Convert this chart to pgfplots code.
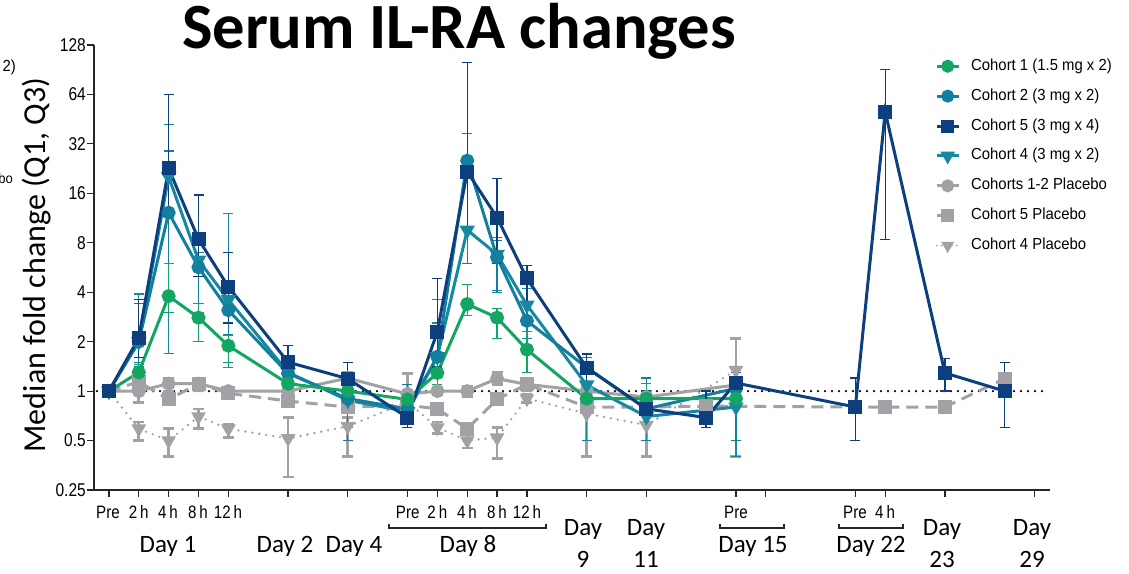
\documentclass[border=0pt]{standalone}
\usepackage{pgfplots}
\usepackage{pgfplotstable}
\pgfplotsset{compat=1.18}
\usepackage{fontspec}
\setmainfont{Liberation Sans}
\newfontfamily\carlito{Carlito}
\newfontfamily\narrowf[FakeStretch=0.84]{Liberation Sans}
\newfontfamily\legf[FakeStretch=0.93]{Liberation Sans}
\definecolor{cgreen}{HTML}{13A662}
\definecolor{cteal}{HTML}{137F9E}
\definecolor{cnavy}{HTML}{0D3F7F}
\definecolor{cteal4}{HTML}{1688A2}
\definecolor{cgrey}{HTML}{A2A2A6}

% Cohort 1 (1.5 mg x 2)
\pgfplotstableread{
x y lo hi
0 1 1 1
1 1.30 1.15 1.45
2 3.79 3.0 6.0
3 2.8 2.0 3.4
4 1.89 1.39 2.19
6 1.11 1.0 1.25
8 1.0 0.9 1.1
10 0.89 0.8 1.0
11 1.29 1.1 1.5
12 3.39 2.9 4.47
13 2.8 2.09 3.19
14 1.79 1.3 2.3
16 0.90 0.8 1.0
18 0.90 0.8 1.11
21 0.90 0.85 0.95
}\cA
% Cohort 2 (3 mg x 2)
\pgfplotstableread{
x y lo hi
0 1 1 1
1 2.0 1.4 3.4
2 12.2 6.0 29
3 5.67 3.4 7.0
4 3.11 2.2 3.6
6 1.28 1.0 1.5
8 0.90 0.5 1.49
10 0.78 0.7 1.1
11 1.62 1.0 3.6
12 25.3 6.0 37
13 6.52 4.0 8.3
14 2.68 1.9 3.4
16 1.39 1.0 1.6
18 0.78 0.5 1.2
21 1.04 0.5 1.2
}\cB
% Cohort 5 (3 mg x 4)
\pgfplotstableread{
x y lo hi
0 1 1 1
1 2.11 1.6 3.6
2 22.7 12 64
3 8.4 5.0 15.6
4 4.32 2.6 7.0
6 1.50 1.2 1.89
8 1.19 1.0 1.49
10 0.69 0.6 0.8
11 2.3 1.4 4.85
12 21.7 9.6 100
13 11.4 6.0 19.7
14 4.85 3.4 5.8
16 1.39 1.1 1.68
18 0.78 0.65 1.0
20 0.69 0.6 1.0
21 1.12 0.9 1.3
25 0.80 0.5 1.2
26 50.2 8.4 91
28 1.29 1.0 1.58
30 1.0 0.6 1.49
}\cE
% Cohort 4 (3 mg x 2)
\pgfplotstableread{
x y lo hi
0 1 1 1
1 2.0 1.5 3.9
2 20.2 1.7 42
3 6.27 3.0 8.0
4 3.6 1.5 12.1
6 1.30 1.0 1.6
8 0.88 0.6 1.3
10 0.75 0.7 1.0
11 1.62 1.1 2.6
12 9.56 6.0 25
13 6.8 4.1 8.6
14 3.34 2.1 4.2
16 1.09 0.5 1.5
18 0.70 0.5 1.2
21 0.80 0.4 1.0
}\cD
% Cohorts 1-2 Placebo
\pgfplotstableread{
x y lo hi
0 1 1 1
1 1.0 0.85 1.1
2 1.11 1.0 1.2
3 1.11 1.0 1.2
4 1.0 0.95 1.05
6 1.0 1.0 1.0
8 1.2 1.1 1.3
10 0.96 0.85 1.28
11 1.0 0.95 1.05
12 1.0 0.93 1.07
13 1.19 1.1 1.3
14 1.1 1.0 1.2
16 1.0 0.9 1.1
18 0.92 0.85 1.0
21 1.09 0.9 1.2
}\pA
% Cohort 5 Placebo
\pgfplotstableread{
x y
0 1
1 1.14
2 0.89
3 1.11
4 0.97
6 0.87
8 0.80
10 0.82
11 0.78
12 0.59
13 0.89
14 1.1
16 0.80
18 0.80
20 0.81
25 0.80
26 0.80
28 0.80
30 1.19
}\pE
% Cohort 4 Placebo
\pgfplotstableread{
x y lo hi
0 1 1 1
1 0.59 0.5 0.65
2 0.50 0.40 0.59
3 0.70 0.59 0.78
4 0.59 0.52 0.63
6 0.515 0.30 0.69
8 0.61 0.40 0.69
10 0.86 0.8 0.95
11 0.60 0.55 0.65
12 0.50 0.45 0.55
13 0.52 0.39 0.60
14 0.90 0.85 0.95
16 0.73 0.40 1.09
18 0.62 0.40 0.80
21 1.34 0.40 2.09
}\pD

\pgfplotsset{
  errs/.style={error bars/.cd, y dir=both, y explicit,
     error bar style={line width=1.3pt, solid, #1},
     error mark options={rotate=90, mark size=5pt, line width=1.3pt, solid, #1}},
  gerrs/.style={error bars/.cd, y dir=both, y explicit,
     error bar style={line width=2.6pt, solid, cgrey},
     error mark options={rotate=90, mark size=5.5pt, line width=2.6pt, solid, cgrey}},
}

\begin{document}
\begin{tikzpicture}
\useasboundingbox (0,0) rectangle (1129pt,573pt);
\begin{axis}[
  at={(94pt,83pt)}, anchor=south west,
  scale only axis, width=956pt, height=445pt,
  xmin=-0.5, xmax=31.52,
  ymode=log, log basis y=2, ymin=0.25, ymax=128,
  axis lines=left,
  axis line style={line width=1.3pt, -, black!85},
  tick style={line width=1.2pt, black!85},
  tick align=outside,
  major tick length=7pt,
  xtick={0,1,2,3,4,6,8,10,11,12,13,14,16,18,21,22,25,26,28,31},
  xticklabels={},
  ytick={0.25,0.5,1,2,4,8,16,32,64,128},
  yticklabels={0.25,0.5,1,2,4,8,16,32,64,128},
  yticklabel style={font=\narrowf\fontsize{18.5}{20}\selectfont, inner sep=1pt},
  minor tick num=0,
  clip=false,
  legend image code/.code={\draw[mark repeat=2,mark phase=2,#1] plot coordinates {(0pt,0pt) (11pt,0pt) (22pt,0pt)};},
  legend style={at={(0.8797,0.9685)}, anchor=north west, draw=none, fill=none,
     font=\legf\fontsize{16}{18}\selectfont, row sep=15.9pt, column sep=0pt,
     inner sep=0pt, nodes={inner sep=0pt, text height=11pt, text depth=3pt}},
  legend cell align=left,
]
% legend
\addlegendimage{cgreen, line width=3pt, mark=*, mark size=5pt, mark options={solid}}
\addlegendentry{\hspace{11pt}Cohort 1 (1.5 mg x 2)}
\addlegendimage{cteal, line width=3pt, mark=*, mark size=5pt, mark options={solid}}
\addlegendentry{\hspace{11pt}Cohort 2 (3 mg x 2)}
\addlegendimage{cnavy, line width=3pt, mark=square*, mark size=5pt, mark options={solid}}
\addlegendentry{\hspace{11pt}Cohort 5 (3 mg x 4)}
\addlegendimage{cteal4, line width=3pt, mark=triangle*, mark size=5.5pt, mark options={solid, rotate=180}}
\addlegendentry{\hspace{11pt}Cohort 4 (3 mg x 2)}
\addlegendimage{cgrey, line width=3pt, mark=*, mark size=5pt, mark options={solid}}
\addlegendentry{\hspace{11pt}Cohorts 1-2 Placebo}
\addlegendimage{cgrey, line width=3pt, dash pattern=on 6pt off 5pt, mark=square*, mark size=5pt, mark options={solid}}
\addlegendentry{\hspace{11pt}Cohort 5 Placebo}
\addlegendimage{cgrey, line width=2pt, line cap=round, dash pattern=on 0pt off 5pt, mark=triangle*, mark size=5.5pt, mark options={solid, rotate=180}}
\addlegendentry{\hspace{11pt}Cohort 4 Placebo}

% reference line at 1
\addplot[forget plot, black, line width=2.6pt, line cap=round, dash pattern=on 0pt off 7pt] coordinates {(-0.4,1) (31.3,1)};

% placebos
\addplot[forget plot, cgrey, line width=2.6pt, line cap=round, dash pattern=on 0pt off 7pt,
   mark=triangle*, mark size=6pt, mark options={solid, rotate=180}, gerrs]
   table[x=x, y=y, y error plus expr=\thisrow{hi}-\thisrow{y}, y error minus expr=\thisrow{y}-\thisrow{lo}] {\pD};
\addplot[forget plot, cgrey, line width=3pt, dash pattern=on 12pt off 7pt,
   mark=square*, mark size=5.5pt, mark options={solid}]
   table[x=x, y=y] {\pE};
\addplot[forget plot, cgrey, line width=3pt, mark=*, mark size=5.5pt, mark options={solid}, gerrs]
   table[x=x, y=y, y error plus expr=\thisrow{hi}-\thisrow{y}, y error minus expr=\thisrow{y}-\thisrow{lo}] {\pA};

% treated cohorts
\addplot[forget plot, cteal4, line width=3pt, mark=triangle*, mark size=6pt, mark options={solid, rotate=180}, errs=cteal4]
   table[x=x, y=y, y error plus expr=\thisrow{hi}-\thisrow{y}, y error minus expr=\thisrow{y}-\thisrow{lo}] {\cD};
\addplot[forget plot, cteal, line width=3pt, mark=*, mark size=5.5pt, mark options={solid}, errs=cteal]
   table[x=x, y=y, y error plus expr=\thisrow{hi}-\thisrow{y}, y error minus expr=\thisrow{y}-\thisrow{lo}] {\cB};
\addplot[forget plot, cgreen, line width=3pt, mark=*, mark size=5.5pt, mark options={solid}, errs=cgreen]
   table[x=x, y=y, y error plus expr=\thisrow{hi}-\thisrow{y}, y error minus expr=\thisrow{y}-\thisrow{lo}] {\cA};
\addplot[forget plot, cnavy, line width=3pt, mark=square*, mark size=5.5pt, mark options={solid}, errs=cnavy]
   table[x=x, y=y, y error plus expr=\thisrow{hi}-\thisrow{y}, y error minus expr=\thisrow{y}-\thisrow{lo}] {\cE};
\end{axis}

% title and y label
\node[font=\carlito\bfseries\fontsize{64.5}{72}\selectfont] at (459pt,542pt) {Serum IL-RA changes};
\node[rotate=90, font=\carlito\fontsize{32}{36}\selectfont] at (37pt,308pt) {Median fold change (Q1, Q3)};

% cropped neighbours at the left edge (as in the source)
\node[anchor=east, font=\legf\fontsize{16}{18}\selectfont, inner sep=0pt] at (16pt,506pt) {(1.5 mg x 2)};
\node[anchor=east, font=\legf\fontsize{14}{16}\selectfont, inner sep=0pt] at (13pt,395pt) {Placebo};

% x labels, first row
\begin{scope}[every node/.style={font=\narrowf\fontsize{18}{20}\selectfont, inner sep=0pt}]
\node at (108pt,61pt) {Pre};
\node at (138.7pt,61pt) {2\,h};
\node at (168pt,61pt) {4\,h};
\node at (198pt,61pt) {8\,h};
\node at (228pt,61pt) {12\,h};
\node at (407.7pt,61pt) {Pre};
\node at (437.3pt,61pt) {2\,h};
\node at (467pt,61pt) {4\,h};
\node at (497pt,61pt) {8\,h};
\node at (527pt,61pt) {12\,h};
\node at (736pt,61pt) {Pre};
\node at (855pt,61pt) {Pre};
\node at (885pt,61pt) {4\,h};
\end{scope}

% brackets
\draw[line width=1.2pt, black!85] (389pt,49pt) -- (389pt,45pt) -- (546pt,45pt) -- (546pt,49pt);
\draw[line width=1.2pt, black!85] (720pt,49pt) -- (720pt,45pt) -- (784pt,45pt) -- (784pt,49pt);
\draw[line width=1.2pt, black!85] (839pt,49pt) -- (839pt,45pt) -- (903pt,45pt) -- (903pt,49pt);

% x labels, second row
\begin{scope}[every node/.style={font=\carlito\fontsize{25}{28}\selectfont, inner sep=0pt}]
\node at (168pt,27pt) {Day 1};
\node at (285pt,27pt) {Day 2};
\node at (354pt,27pt) {Day 4};
\node at (468pt,27pt) {Day 8};
\node at (753pt,27pt) {Day 15};
\node at (871pt,27pt) {Day 22};
\node at (583pt,44pt) {Day};
\node at (583pt,14pt) {9};
\node at (646pt,44pt) {Day};
\node at (646pt,14pt) {11};
\node at (942pt,44pt) {Day};
\node at (942pt,14pt) {23};
\node at (1032pt,44pt) {Day};
\node at (1032pt,14pt) {29};
\end{scope}
\end{tikzpicture}
\end{document}
